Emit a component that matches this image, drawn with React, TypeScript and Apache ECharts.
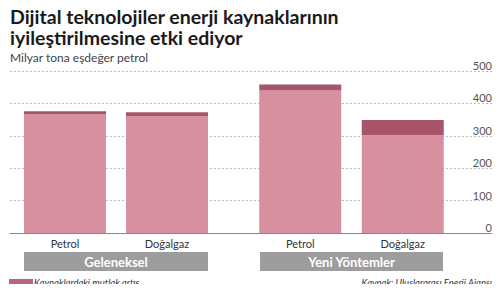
import React, { useEffect, useRef } from "react";
import * as echarts from "echarts";

const categories = ["Petrol", "Doğalgaz"];
const groupNames = ["Geleneksel", "Yeni Yöntemler"];
const traditionalBase = [367, 361];
const traditionalIncrease = [9, 12];
const newBase = [440, 302];
const newIncrease = [18, 47];
const yTicks = [0, 100, 200, 300, 400, 500];

const titleLines = ["Dijital teknolojiler enerji kaynaklarının", "iyileştirilmesine etki ediyor"];
const subtitle = "Milyar tona eşdeğer petrol";
const legendLabel = "Kaynaklardaki mutlak artış";
const sourceLabel = "Kaynak: Uluslararası Enerji Ajansı";

const BASE = "#d6909f";
const DARK = "#a8546b";
const GREY = "#9d9d9d";

export default function App() {
  const ref = useRef<HTMLDivElement>(null);
  useEffect(() => {
    if (!ref.current) return;
    const chart = echarts.init(ref.current, undefined, { renderer: "svg" });
    const top = 71;
    const height = 162;
    const yMin = yTicks[0];
    const yMax = yTicks[yTicks.length - 1];
    const hiddenY = (gridIndex: number) => ({
      type: "value",
      gridIndex,
      min: yMin,
      max: yMax,
      interval: 100,
      show: false,
    });
    const barX = (gridIndex: number) => ({
      type: "category",
      gridIndex,
      data: categories,
      axisLine: { show: false },
      axisTick: { show: false },
      axisLabel: {
        color: "#333",
        fontSize: 11,
        fontFamily: "Lato",
        margin: 5,
      },
    });
    const barSeries = (axis: number, base: number[], inc: number[]) => [
      {
        type: "bar",
        xAxisIndex: axis,
        yAxisIndex: axis,
        stack: "s" + axis,
        barWidth: 82,
        itemStyle: { color: BASE },
        data: base,
      },
      {
        type: "bar",
        xAxisIndex: axis,
        yAxisIndex: axis,
        stack: "s" + axis,
        barWidth: 82,
        itemStyle: { color: DARK },
        data: inc,
      },
    ];
    const boxes = [
      { x: 24, w: 184 },
      { x: 260, w: 183 },
    ];
    const graphics: any[] = [
      { type: "rect", shape: { x: 0, y: 0, width: 3, height: 34 }, style: { fill: "#e8782a" } },
      { type: "line", shape: { x1: 3.5, y1: 34, x2: 3.5, y2: 289 }, style: { stroke: "#b5b5b5", lineWidth: 1 } },
      { type: "line", shape: { x1: 3.5, y1: 289.5, x2: 496.5, y2: 289.5 }, style: { stroke: "#b5b5b5", lineWidth: 1 } },
      { type: "line", shape: { x1: 496.5, y1: 0, x2: 496.5, y2: 289.5 }, style: { stroke: "#9a9a9a", lineWidth: 1 } },
      {
        type: "text",
        x: 10,
        y: 6,
        style: { text: titleLines[0], font: "bold 19.5px Lato", fill: "#1a1a1a" },
      },
      {
        type: "text",
        x: 10,
        y: 27,
        style: { text: titleLines[1], font: "bold 19.5px Lato", fill: "#1a1a1a" },
      },
      {
        type: "text",
        x: 10,
        y: 51,
        style: { text: subtitle, font: "12px Lato", fill: "#444" },
      },
      ...boxes.map((b, i) => ({
        type: "group",
        children: [
          { type: "rect", shape: { x: b.x, y: 252, width: b.w, height: 19 }, style: { fill: GREY } },
          {
            type: "text",
            x: b.x + b.w / 2,
            y: 261.5,
            style: {
              text: groupNames[i],
              font: "bold 13px Lato",
              fill: "#fff",
              align: "center",
              verticalAlign: "middle",
            },
          },
        ],
      })),
      { type: "rect", shape: { x: 9, y: 279, width: 24, height: 6 }, style: { fill: "#b8667b" } },
      {
        type: "text",
        x: 34,
        y: 282,
        style: { text: legendLabel, font: "italic 9.5px Lato", fill: "#333", verticalAlign: "middle" },
      },
      {
        type: "text",
        x: 492,
        y: 282,
        style: {
          text: sourceLabel,
          font: "italic 9.5px Lato",
          fill: "#333",
          align: "right",
          verticalAlign: "middle",
        },
      },
    ];
    chart.setOption({
      animation: false,
      grid: [
        { left: 10, width: 483, top, height },
        { left: 14, width: 204, top, height },
        { left: 249, width: 205, top, height },
      ],
      xAxis: [
        {
          type: "category",
          gridIndex: 0,
          data: [""],
          axisLine: { show: true, lineStyle: { color: "#888", width: 1 } },
          axisTick: { show: false },
          axisLabel: { show: false },
          z: 5,
        },
        barX(1),
        barX(2),
      ],
      yAxis: [
        {
          type: "value",
          gridIndex: 0,
          position: "right",
          min: yMin,
          max: yMax,
          interval: 100,
          axisLine: { show: false },
          axisTick: { show: false },
          axisLabel: {
            inside: true,
            margin: 1,
            verticalAlign: "bottom",
            color: "#555",
            fontSize: 11,
            fontFamily: "Lato",
          },
          splitLine: { show: true, lineStyle: { color: "#bbb", type: [2, 2], width: 1 } },
        },
        hiddenY(1),
        hiddenY(2),
      ],
      series: [
        ...barSeries(1, traditionalBase, traditionalIncrease),
        ...barSeries(2, newBase, newIncrease),
      ],
      graphic: graphics,
    });
    return () => chart.dispose();
  }, []);
  return <div ref={ref} style={{ width: 500, height: 292, margin: -8 }} />;
}
